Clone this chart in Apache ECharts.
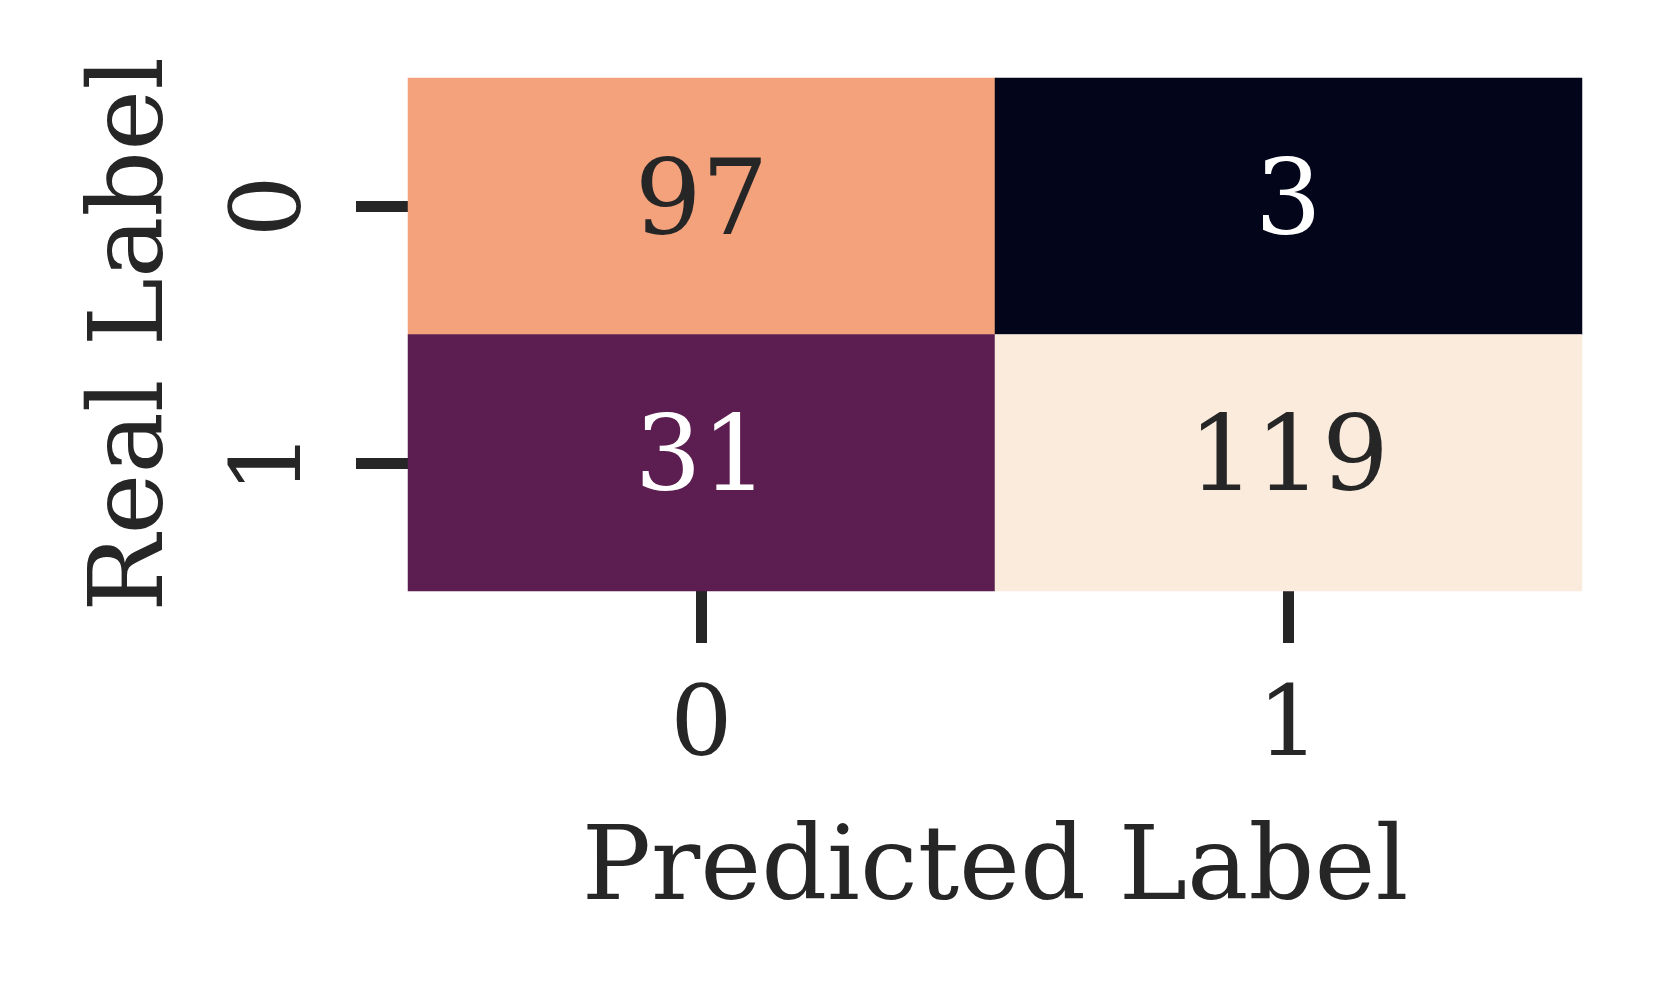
<!DOCTYPE html>
<html>
<head>
<meta charset="utf-8">
<script src="https://cdn.jsdelivr.net/npm/echarts@6/dist/echarts.min.js"></script>
<style>
  html, body { margin: 0; padding: 0; background: #fff; }
  #chart { width: 1660px; height: 1000px; }
</style>
</head>
<body>
<div id="chart"></div>
<script>
// confusion matrix values
const predictedLabels = ['0', '1'];
const realLabels = ['0', '1'];
const row0 = [97, 3];
const row1 = [31, 119];
const counts = [row0, row1];

// seaborn "rocket" colormap
const rocket = ['#03051A', '#221331', '#4C1D4B', '#731F58', '#A11A5B', '#CB1B4F',
  '#E83F3F', '#F26A4C', '#F49E77', '#F6C5A7', '#FAEBDD'];

const font = 'DejaVu Serif';
const ink = '#262626';

const vals = counts.flat();
const vmin = Math.min(...vals);
const vmax = Math.max(...vals);
const mid = (vmin + vmax) / 2;

const cells = [];
counts.forEach((row, r) => {
  row.forEach((v, c) => {
    cells.push({
      value: [c, r, v],
      label: { color: v < mid ? '#ffffff' : ink }
    });
  });
});

const chart = echarts.init(document.getElementById('chart'));
chart.setOption({
  animation: false,
  grid: { left: 408, right: 78, top: 78, bottom: 409 },
  xAxis: {
    type: 'category',
    data: predictedLabels,
    name: 'Predicted Label',
    nameLocation: 'middle',
    nameGap: 230,
    nameTextStyle: { fontFamily: font, fontSize: 103, color: ink, lineHeight: 103 },
    axisLine: { show: false },
    axisTick: { show: true, alignWithLabel: true, length: 52, lineStyle: { color: ink, width: 11 } },
    axisLabel: { fontFamily: font, fontSize: 98, color: ink, margin: 90, lineHeight: 98 },
    splitLine: { show: false }
  },
  yAxis: {
    type: 'category',
    data: realLabels,
    inverse: true,
    name: 'Real Label',
    nameLocation: 'middle',
    nameGap: 221,
    nameTextStyle: { fontFamily: font, fontSize: 103, color: ink, lineHeight: 103 },
    axisLine: { show: false },
    axisTick: { show: true, alignWithLabel: true, length: 52, lineStyle: { color: ink, width: 11 } },
    axisLabel: { fontFamily: font, fontSize: 98, color: ink, margin: 84, rotate: 90, lineHeight: 98 },
    splitLine: { show: false }
  },
  visualMap: {
    show: false,
    min: vmin,
    max: vmax,
    dimension: 2,
    inRange: { color: rocket }
  },
  series: [{
    type: 'heatmap',
    data: cells,
    label: {
      show: true,
      fontFamily: font,
      fontSize: 105,
      formatter: p => String(p.value[2])
    },
    itemStyle: { borderWidth: 0 },
    emphasis: { disabled: true }
  }]
});
</script>
</body>
</html>
